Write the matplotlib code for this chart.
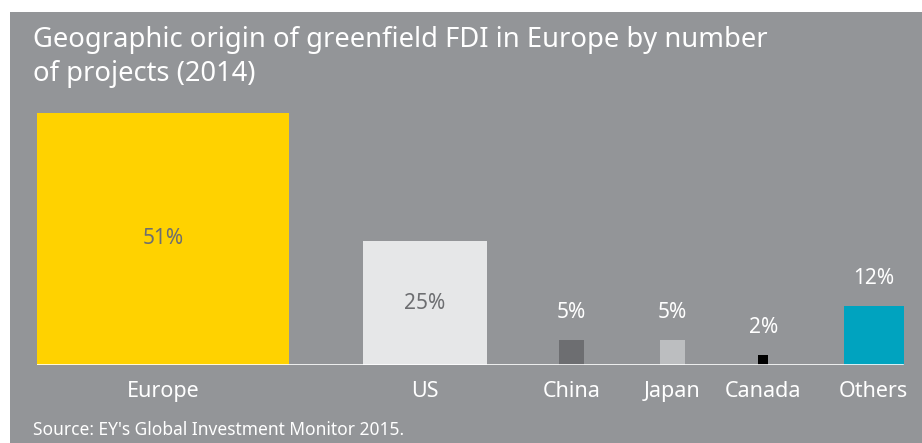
import matplotlib
matplotlib.use("Agg")
from matplotlib import pyplot as plt

# Share of greenfield FDI projects in Europe by origin, 2014 (EY)
regions = ["Europe", "US", "China", "Japan", "Canada", "Others"]
shares = [51, 25, 5, 5, 2, 12]
bar_colors = ["#ffd200", "#e6e7e8", "#6d6e71", "#bcbec0", "#000000", "#00a3bf"]

# left edge of each square (same units as the shares)
slot_left = [0, 66, 105.7, 126.1, 146, 163.4]

panel_grey = "#939598"
label_grey = "#6d6e71"
W, H = 922, 443

plt.rcParams["font.family"] = ["Noto Sans", "DejaVu Sans"]

fig = plt.figure(figsize=(W / 100, H / 100), dpi=100, facecolor="white")

# grey panel behind everything
bg = fig.add_axes([10 / W, 0, (W - 10) / W, (H - 12) / H])
bg.set_facecolor(panel_grey)
bg.set_xticks([])
bg.set_yticks([])
for s in bg.spines.values():
    s.set_visible(False)

# chart area: baseline at y=365px, top of Europe at 113px
ax = fig.add_axes([37 / W, (H - 365) / H, 867 / W, 252 / H])
ax.set_facecolor("none")
ax.bar(slot_left, shares, width=shares, align="edge", color=bar_colors, zorder=2)
ax.set_xlim(0, 175.5)
ax.set_ylim(0, 51)
ax.axis("off")
ax.axhline(0, xmin=0, xmax=866 / 867, color="white", lw=1.2, zorder=3)

for left, val, name in zip(slot_left, shares, regions):
    cx = left + val / 2
    if val >= 20:
        ax.text(cx, val / 2, f"{val}%", ha="center", va="center",
                color=label_grey, fontsize=15, zorder=4)
    else:
        ax.annotate(f"{val}%", (cx, val), xytext=(0, 22), textcoords="offset pixels",
                    ha="center", va="baseline", color="white", fontsize=15)
    ax.annotate(name, (cx, 0), xytext=(0, -32), textcoords="offset pixels",
                ha="center", va="baseline", color="white", fontsize=15.5)

fig.text(33 / W, 1 - 26 / H,
         "Geographic origin of greenfield FDI in Europe by number\nof projects (2014)",
         ha="left", va="top", color="white", fontsize=19.7, linespacing=1.3)
fig.text(33 / W, 1 - 435 / H, "Source: EY's Global Investment Monitor 2015.",
         ha="left", va="baseline", color="white", fontsize=12.5)

fig.savefig("out.png", dpi=100, facecolor="white")
